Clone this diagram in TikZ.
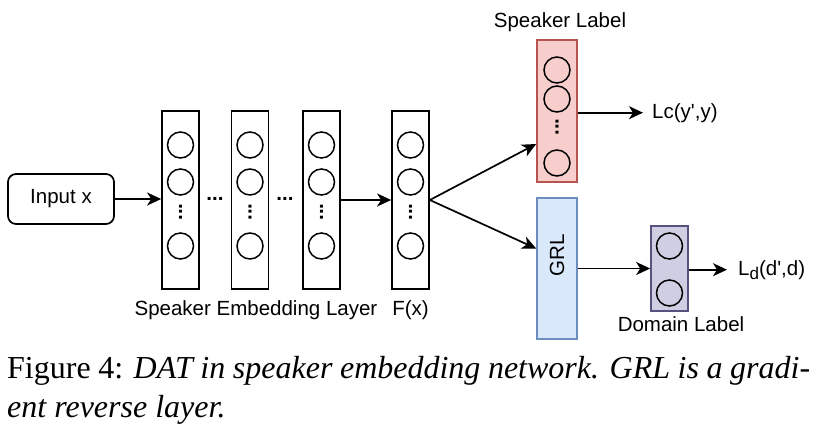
\documentclass[tikz,border=0pt]{standalone}
\usepackage{fontspec}
\setmainfont{Liberation Serif}
\setsansfont{Liberation Sans}
\usetikzlibrary{arrows.meta,calc}
\definecolor{spkfill}{HTML}{F8CECC}
\definecolor{spkline}{HTML}{B85450}
\definecolor{grlfill}{HTML}{DAE8FC}
\definecolor{grlline}{HTML}{6C8EBF}
\definecolor{domfill}{HTML}{D0CEE2}
\definecolor{domline}{HTML}{56517E}
\begin{document}
\begin{tikzpicture}[x=1pt,y=-1pt,
  every node/.style={font=\sffamily\fontsize{20.5}{24}\selectfont},
  layer/.style={draw,line width=1.7pt,minimum width=37pt,minimum height=178pt,inner sep=0},
  unit/.style={draw,circle,line width=1.5pt,minimum size=26pt,inner sep=0},
  vdots/.style={rotate=90,anchor=base,inner sep=0,font=\sffamily\bfseries\fontsize{20.5}{24}\selectfont},
  hdots/.style={anchor=base,inner sep=0,font=\sffamily\bfseries\fontsize{20.5}{24}\selectfont},
  arr/.style={line width=1.7pt,-{Stealth[length=14pt,width=13pt,inset=4pt]}}]
\useasboundingbox (0,0) rectangle (828,437);
% input
\node[draw,line width=1.7pt,rounded corners=8pt,minimum width=106pt,minimum height=50pt] (in) at (61,199) {Input x};
% embedding layers
\foreach \n/\x in {h1/180.5,h2/250,h3/321.5,f/410.5}{
  \node[layer] (\n) at (\x,200) {};
  \foreach \y in {145,182,246} \node[unit] (\n-\y) at (\x,\y) {};
  \node[vdots] (\n-dots) at (\x+1.5,212) {...};
}
\node[hdots] (d1) at (215,200.5) {...};
\node[hdots] (d2) at (285,200.5) {...};
\node[anchor=base] (emb) at (256,315) {Speaker Embedding Layer};
\node[anchor=base] (fx) at (410.5,315) {F(x)};
% speaker label branch
\node[draw=spkline,fill=spkfill,line width=1.7pt,minimum width=40pt,minimum height=142pt,inner sep=0] (spk) at (557,111) {};
\foreach \y in {70,99,163} \node[unit] (spk-\y) at (557,\y) {};
\node[vdots] (spk-dots) at (558.5,127) {...};
\node[anchor=base] (spklab) at (560,27) {Speaker Label};
\node[anchor=base west,inner xsep=9pt,inner ysep=0] (lossc) at (643,118) {Lc(y\textquotesingle,y)};
% domain branch
\node[draw=grlline,fill=grlfill,line width=1.7pt,minimum width=40pt,minimum height=141pt,inner sep=0] (grl) at (557,268.5) {};
\node[rotate=90] (grltext) at (557,255) {GRL};
\node[draw=domline,fill=domfill,line width=1.7pt,minimum width=37pt,minimum height=85pt,inner sep=0] (dom) at (669.5,268.5) {};
\foreach \y in {246,293} \node[unit] (dom-\y) at (669.5,\y) {};
\node[anchor=base] (domlab) at (681,331) {Domain Label};
\node[anchor=base west,inner xsep=11pt,inner ysep=0] (lossd) at (727,275) {L\raisebox{-4pt}{\fontsize{17}{17}\selectfont d}(d\textquotesingle,d)};
% connectors
\draw[arr] (in) -- (in -| h1.west);
\draw[arr] (h3.east) -- (f.west);
\draw[arr] (f.east) -- ($(spk.west)+(0,33)$);
\draw[arr] (f.east) -- ($(grl.west)+(0,-20)$);
\draw[arr] (spk.east |- lossc.west) -- (lossc.west);
\draw[arr] (grl.east |- dom.west) -- (dom.west);
\draw[arr] (dom.east |- lossd.west) -- (lossd.west);
% caption
\node[anchor=base west,inner sep=0,font=\rmfamily\fontsize{32}{38}\selectfont] (cap1) at (7,378)
  {\makebox[803pt][s]{Figure 4: \textit{DAT in speaker embedding network. GRL is a gradi-}}};
\node[anchor=base west,inner sep=0,font=\rmfamily\fontsize{32}{38}\selectfont] (cap2) at (7,417)
  {\textit{ent reverse layer.}};
\end{tikzpicture}
\end{document}
